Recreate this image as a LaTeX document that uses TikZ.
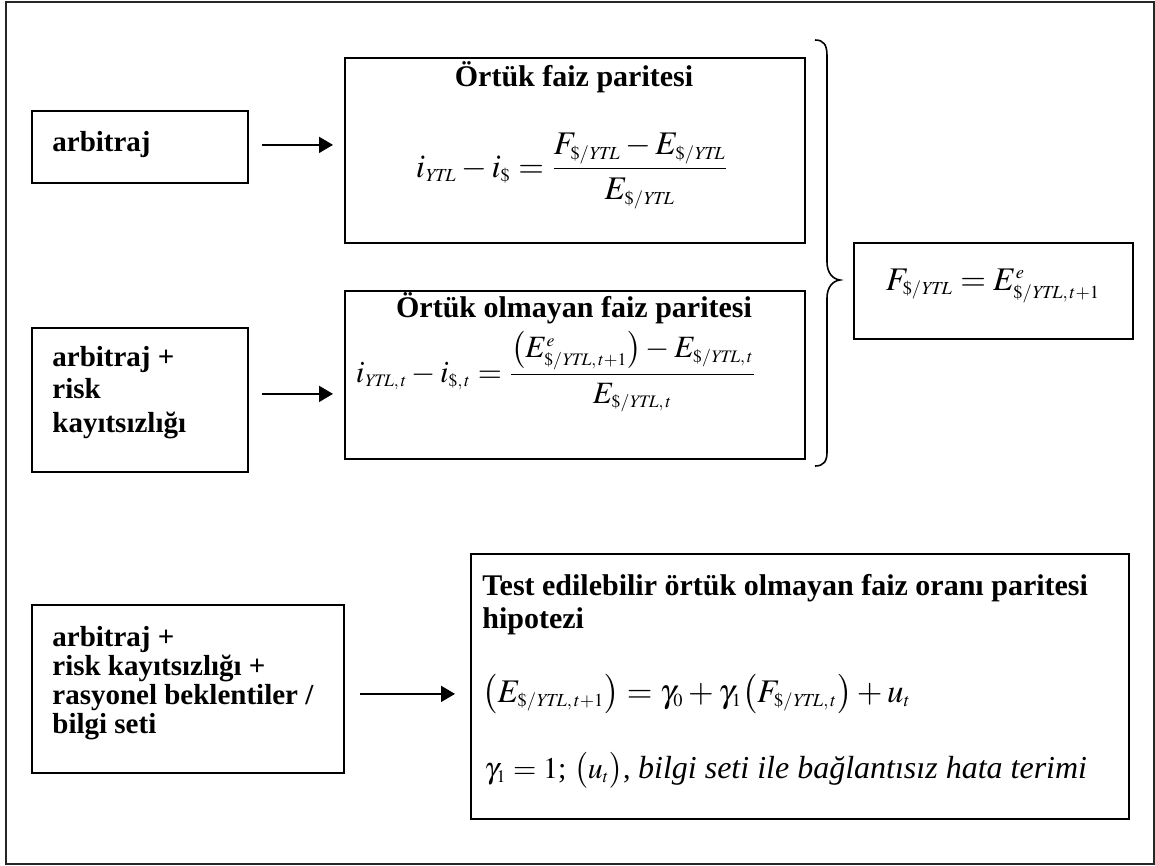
\documentclass[tikz,border=0pt]{standalone}
\usepackage{mathptmx}
\usepackage{fontspec}
\setmainfont{Liberation Serif}
\DeclareMathSizes{16.5}{16.5}{9.2}{7}
\DeclareMathSizes{15.5}{15.5}{8.8}{7}
\DeclareMathSizes{15}{15}{8.8}{7}
\usetikzlibrary{arrows.meta}
\begin{document}
\begin{tikzpicture}[x=0.5pt,y=-0.5pt,
  box/.style={draw, line width=0.9pt, inner sep=0pt, anchor=north west},
  arr/.style={line width=0.9pt, -{Triangle[length=7pt,width=8pt]}},
  lbl/.style={font=\fontsize{14.5}{16}\selectfont\bfseries, inner sep=0pt},
  ttl/.style={font=\fontsize{15}{17}\selectfont\bfseries, inner sep=0pt},
  fml/.style={font=\fontsize{16.5}{19}\selectfont, inner sep=0pt},
  fmls/.style={font=\fontsize{15.5}{18}\selectfont, inner sep=0pt},
  itl/.style={font=\fontsize{15}{18}\selectfont, inner sep=0pt},
]
\useasboundingbox (0,0) rectangle (1155,866);
\draw[line width=1pt, draw=black!85] (6,2) rectangle (1154,864);

% boxes
\node[box, minimum width=108pt, minimum height=36pt] (a1) at (31,110) {};
\node[box, minimum width=108pt, minimum height=72pt] (a2) at (31,327) {};
\node[box, minimum width=156pt, minimum height=84pt] (a3) at (31,604) {};
\node[box, minimum width=230pt, minimum height=92.5pt] (b1) at (344,57) {};
\node[box, minimum width=230pt, minimum height=84pt] (b2) at (344,290) {};
\node[box, minimum width=139.5pt, minimum height=48pt] (r) at (853,242) {};
\node[box, minimum width=329pt, minimum height=132.5pt] (t) at (470,553) {};

% left labels
\node[lbl, anchor=base west] (a1t) at (52,152) {arbitraj};
\node[lbl, anchor=base west] (a2t1) at (52,366) {arbitraj +};
\node[lbl, anchor=base west] (a2t2) at (52,398) {risk};
\node[lbl, anchor=base west] (a2t3) at (52,432) {kayıtsızlığı};
\node[lbl, anchor=base west] (a3t1) at (52,646) {arbitraj +};
\node[lbl, anchor=base west] (a3t2) at (52,675) {risk kayıtsızlığı +};
\node[lbl, anchor=base west] (a3t3) at (52,704) {rasyonel beklentiler /};
\node[lbl, anchor=base west] (a3t4) at (52,733) {bilgi seti};

% titles
\node[ttl, anchor=base] (b1t) at (574,87) {Örtük faiz paritesi};
\node[ttl, anchor=base] (b2t) at (574,317) {Örtük olmayan faiz paritesi};
\node[ttl, anchor=base west] (tt1) at (482,595) {Test edilebilir örtük olmayan faiz oranı paritesi};
\node[ttl, anchor=base west] (tt2) at (482,628) {hipotezi};

% formulas
\node[fml, anchor=base] (f1) at (572,177)
  {$i_{\mathit{YTL}} - i_{\$} = \displaystyle\frac{F_{\$/\mathit{YTL}} - E_{\$/\mathit{YTL}}}{E_{\$/\mathit{YTL}}}$};
\node[fmls, anchor=base] (f2) at (556,382)
  {$i_{\mathit{YTL},\,t} - i_{\$,\,t} = \displaystyle\frac{\textstyle\bigl(E^{e}_{\$/\mathit{YTL},\,t+1}\bigr) - E_{\$/\mathit{YTL},\,t}}{E_{\$/\mathit{YTL},\,t}}$};
\node[fml, anchor=base] (f3) at (993,290)
  {$F_{\$/\mathit{YTL}} = E^{e}_{\$/\mathit{YTL},\,t+1}$};
\node[fml, anchor=base west] (f4) at (482,702)
  {$\bigl(E_{\$/\mathit{YTL},\,t+1}\bigr) = \gamma_0 + \gamma_1\bigl(F_{\$/\mathit{YTL},\,t}\bigr) + u_t$};
\node[itl, anchor=base west] (f5) at (484,778)
  {$\gamma_1 = 1$;\ $\bigl(u_t\bigr)$, {\fontsize{16}{19}\selectfont\textit{bilgi seti ile bağlantısız hata terimi}}};

% arrows
\draw[arr, shorten <=6.5pt, shorten >=5.5pt] ([yshift=1pt]a1.east) -- ([yshift=1pt]a1.east -| b1.west);
\draw[arr, shorten <=6.5pt, shorten >=5.5pt] ([yshift=3pt]a2.east) -- ([yshift=3pt]a2.east -| b2.west);
\draw[arr, shorten <=7.5pt, shorten >=7.5pt] ([yshift=-2.5pt]a3.east) -- ([yshift=-2.5pt]a3.east -| t.west);

% brace
\draw[line width=0.8pt] (815,40) .. controls (824,40) and (827,45) .. (827,56)
  -- (827,262) .. controls (827,272) and (832,279) .. (840,280)
  .. controls (832,281) and (827,288) .. (827,298)
  -- (827,452) .. controls (827,461) and (824,466) .. (815,466);
\end{tikzpicture}
\end{document}
